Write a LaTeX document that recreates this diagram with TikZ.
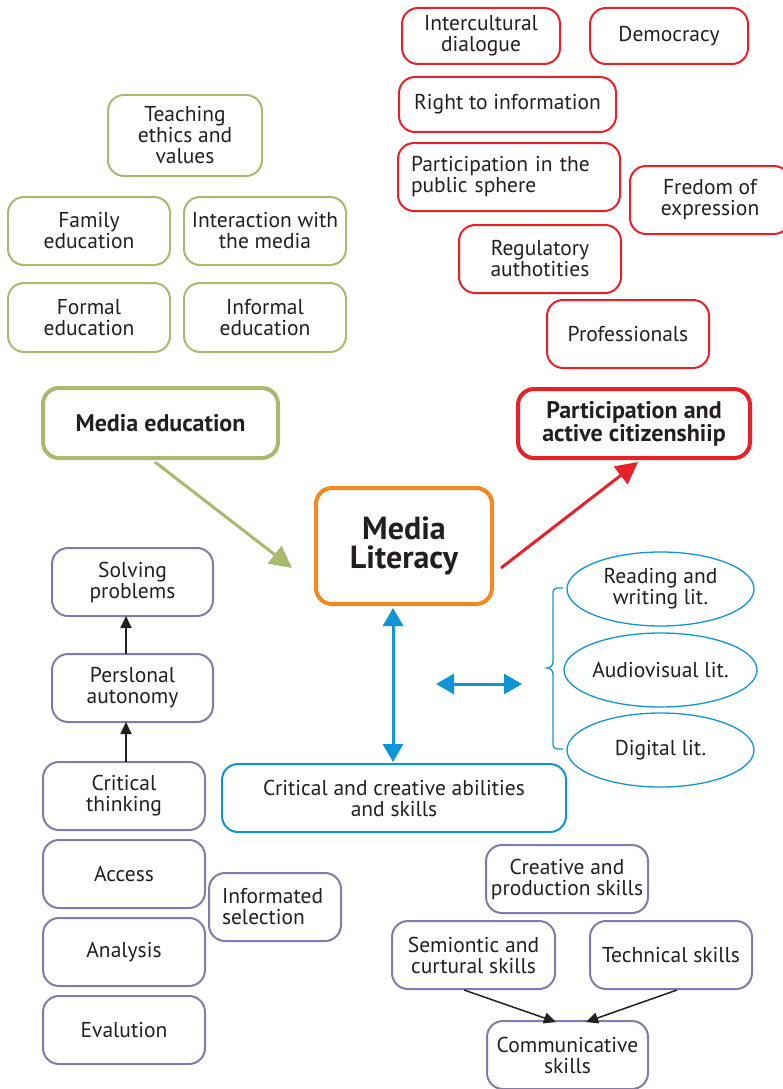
\documentclass[tikz,border=0pt]{standalone}
\usepackage{fontspec}
\setmainfont{PT Sans}
\usetikzlibrary{arrows.meta,shapes.geometric}
\definecolor{cgreen}{RGB}{169,185,110}
\definecolor{cred}{RGB}{232,32,42}
\definecolor{corange}{RGB}{245,134,32}
\definecolor{cblue}{RGB}{14,149,216}
\definecolor{cpurple}{RGB}{128,124,170}
\definecolor{ctext}{RGB}{35,31,32}
\tikzset{
  base/.style={rounded corners=16pt, line width=2pt, align=center, inner sep=0pt, text=ctext,
    font=\fontsize{21.5}{21}\selectfont},
  gbox/.style={base, draw=cgreen},
  rbox/.style={base, draw=cred},
  pbox/.style={base, draw=cpurple},
  bbox/.style={base, draw=cblue},
  ell/.style={ellipse, draw=cblue, line width=1.3pt, align=center, inner sep=0pt, text=ctext,
    minimum width=187pt, minimum height=74pt, font=\fontsize{21.5}{21}\selectfont},
  bigbox/.style={line width=4pt, font=\bfseries\fontsize{24}{23}\selectfont},
  blackarrow/.style={ctext, line width=1.8pt, -{Triangle[length=12pt,width=11pt]}},
}
\begin{document}
\begin{tikzpicture}[x=1pt,y=-1pt]
\useasboundingbox (0,0) rectangle (783,1089);
% green cluster
\node[gbox, minimum width=154pt, minimum height=81pt] (teach) at (185,135.5) {Teaching\\ethics and\\values};
\node[gbox, minimum width=162pt, minimum height=68pt] (family) at (89,231) {Family\\education};
\node[gbox, minimum width=162pt, minimum height=68pt] (inter) at (265,231) {Interaction with\\the media};
\node[gbox, minimum width=162pt, minimum height=69pt] (formal) at (89,317.5) {Formal\\education};
\node[gbox, minimum width=162pt, minimum height=69pt] (informal) at (265,317.5) {Informal\\education};
\node[gbox, bigbox, minimum width=235pt, minimum height=70pt] (medu) at (160.5,423) {Media education};
% red cluster
\node[rbox, minimum width=158pt, minimum height=56pt] (icd) at (481,36) {Intercultural\\dialogue};
\node[rbox, minimum width=158pt, minimum height=56pt] (demo) at (669,36) {Democracy};
\node[rbox, minimum width=217pt, minimum height=55pt] (right) at (507.5,104.5) {Right to information};
\node[rbox, minimum width=222pt, minimum height=68pt, text width=196pt, align=left] (pps) at (509,177) {Participation in the\\public sphere};
\node[rbox, minimum width=160pt, minimum height=68pt] (free) at (710,200) {Fredom of\\expression};
\node[rbox, minimum width=162pt, minimum height=68pt] (reg) at (540,259) {Regulatory\\authotities};
\node[rbox, minimum width=162pt, minimum height=68pt] (prof) at (628,334) {Professionals};
\node[rbox, bigbox, minimum width=232pt, minimum height=69pt] (part) at (634,423.5) {Participation and\\active citizenshiip};
% center
\node[base, draw=corange, line width=4pt, minimum width=176pt, minimum height=116pt,
  font=\bfseries\fontsize{32}{29}\selectfont] (ml) at (404,546) {Media\\Literacy};
% arrows to/from center
\coordinate (g1) at (155,462);
\coordinate (g2) at (292,568);
\coordinate (r1) at (501,568);
\coordinate (r2) at (638,462);
\draw[cgreen, line width=3pt, -{Triangle[length=22pt,width=22pt]}] (g1) -- (g2);
\draw[cred, line width=3pt, -{Triangle[length=22pt,width=22pt]}] (r1) -- (r2);
% blue lits
\node[ell] (read) at (660.5,589) {Reading and\\writing lit.};
\node[ell] (audio) at (660.5,670) {Audiovisual lit.};
\node[ell] (digi) at (660.5,750) {Digital lit.};
\coordinate (bt) at (563,588);
\coordinate (bb) at (563,749);
\draw[cblue, line width=1.3pt] (bt) -- (557,588) to[out=180,in=90] (553,592) -- (553,662)
  to[out=-90,in=0] (547,668) to[out=0,in=90] (553,674) -- (553,745) to[out=-90,in=180] (557,749) -- (bb);
\coordinate (hl) at (436,684);
\coordinate (hr) at (522,684);
\draw[cblue, line width=3pt, {Triangle[length=18pt,width=20pt]}-{Triangle[length=18pt,width=20pt]}] (hl) -- (hr);
\node[bbox, minimum width=344pt, minimum height=68pt] (crit) at (394,798) {Critical and creative abilities\\and skills};
\coordinate (vt) at (393,608);
\coordinate (vb) at (393,762);
\draw[cblue, line width=3pt, {Triangle[length=18pt,width=20pt]}-{Triangle[length=18pt,width=20pt]}] (vt) -- (vb);
% purple left
\node[pbox, minimum width=161pt, minimum height=68pt] (solve) at (132.5,582) {Solving\\problems};
\node[pbox, minimum width=161pt, minimum height=68pt] (auto) at (132.5,688) {Perslonal\\autonomy};
\node[pbox, minimum width=162pt, minimum height=68pt] (ct) at (124,796) {Critical\\thinking};
\node[pbox, minimum width=162pt, minimum height=68pt] (access) at (124,874) {Access};
\node[pbox, minimum width=132pt, minimum height=68pt, text width=106pt, align=left] (infsel) at (275,907) {Informated\\selection};
\node[pbox, minimum width=162pt, minimum height=68pt] (anal) at (124,952) {Analysis};
\node[pbox, minimum width=162pt, minimum height=68pt] (eval) at (124,1030) {Evalution};
\coordinate (a1) at (126,762);
\coordinate (a2) at (126,722);
\coordinate (a3) at (126,654);
\coordinate (a4) at (126,616);
\draw[blackarrow] (a1) -- (a2);
\draw[blackarrow] (a3) -- (a4);
% bottom right
\node[pbox, minimum width=162pt, minimum height=68pt] (creat) at (567,879) {Creative and\\production skills};
\node[pbox, minimum width=163pt, minimum height=68pt] (semi) at (473.5,955) {Semiontic and\\curtural skills};
\node[pbox, minimum width=162pt, minimum height=68pt] (tech) at (671,955) {Technical skills};
\node[pbox, minimum width=161pt, minimum height=68pt] (comm) at (567.5,1055) {Communicative\\skills};
\coordinate (s1) at (464,990);
\coordinate (s2) at (556,1022);
\coordinate (t1) at (677,990);
\coordinate (t2) at (586,1022);
\draw[blackarrow, line width=1.5pt] (s1) -- (s2);
\draw[blackarrow, line width=1.5pt] (t1) -- (t2);
\end{tikzpicture}
\end{document}
